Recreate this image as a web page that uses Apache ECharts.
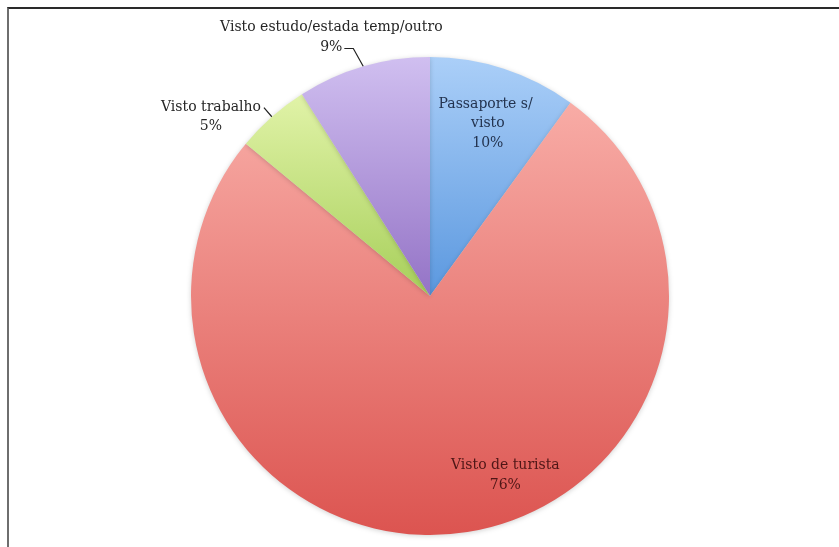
<!DOCTYPE html>
<html>
<head>
<meta charset="utf-8">
<script src="https://cdn.jsdelivr.net/npm/echarts@6/dist/echarts.min.js"></script>
<style>
  html, body { margin: 0; padding: 0; background: #ffffff; }
  #frame {
    position: absolute; left: 7px; top: 7px; width: 840px; height: 560px;
    border-top: 2px solid #2a2a2a; border-left: 2px solid #6e6e6e;
    box-sizing: border-box;
  }
  #chart { position: absolute; left: 0; top: 0; width: 839px; height: 547px; }
</style>
</head>
<body>
<div id="frame"></div>
<div id="chart"></div>
<script>
// Tipo de documento de entrada (percentagem)
const categories = ['Passaporte s/ visto', 'Visto de turista', 'Visto trabalho', 'Visto estudo/estada temp/outro'];
const values = [10, 76, 5, 9];

// Gradient stops (top -> bottom) for each slice
const topColors = ['#abcff8', '#f8aca6', '#e1f3a8', '#d0bff0'];
const bottomColors = ['#5b98df', '#dc5450', '#a7cf5a', '#9473c6'];
const labelColors = ['#23334f', '#4e1616', '#262626', '#262626'];
const insideLabel = [true, true, false, false];

// Nudges applied on top of the library's label placement
const insideShift = { 0: [20, -56], 1: [60, 58] };
const outsideLayout = {
  2: { text: [-61, 0], line: [[-1, -1], [-8, -9]] },
  3: { text: [-32, -29], line: [[-10, -18], [-19, -18]] }
};

const data = categories.map((name, i) => ({
  name: name,
  value: values[i],
  itemStyle: {
    color: new echarts.graphic.LinearGradient(0, 0, 0, 1, [
      { offset: 0, color: topColors[i] },
      { offset: 1, color: bottomColors[i] }
    ])
  },
  label: {
    position: insideLabel[i] ? 'inside' : 'outside',
    color: labelColors[i],
    width: i === 0 ? 110 : undefined,
    overflow: i === 0 ? 'break' : 'none'
  }
}));

const chart = echarts.init(document.getElementById('chart'), null, { renderer: 'canvas' });
chart.setOption({
  backgroundColor: 'transparent',
  animation: false,
  series: [{
    type: 'pie',
    center: [430, 296],
    radius: 239,
    startAngle: 90,
    clockwise: true,
    avoidLabelOverlap: false,
    data: data,
    itemStyle: {
      shadowBlur: 5,
      shadowColor: 'rgba(0,0,0,0.18)',
      shadowOffsetY: 1
    },
    label: {
      show: true,
      formatter: p => p.name + '\n' + p.value + '%',
      fontFamily: 'DejaVu Serif',
      fontSize: 14,
      lineHeight: 19.5,
      align: 'center'
    },
    labelLine: {
      show: true,
      length: 10,
      length2: 10,
      lineStyle: { color: '#222', width: 1.2 }
    },
    labelLayout: function (params) {
      const i = params.dataIndex;
      if (insideShift[i]) {
        return { dx: insideShift[i][0], dy: insideShift[i][1] };
      }
      const cfg = outsideLayout[i];
      const p0 = params.labelLinePoints[0];
      return {
        x: p0[0] + cfg.text[0],
        y: p0[1] + cfg.text[1],
        align: 'center',
        verticalAlign: 'middle',
        labelLinePoints: [
          [p0[0], p0[1]],
          [p0[0] + cfg.line[0][0], p0[1] + cfg.line[0][1]],
          [p0[0] + cfg.line[1][0], p0[1] + cfg.line[1][1]]
        ]
      };
    }
  }]
});
</script>
</body>
</html>
